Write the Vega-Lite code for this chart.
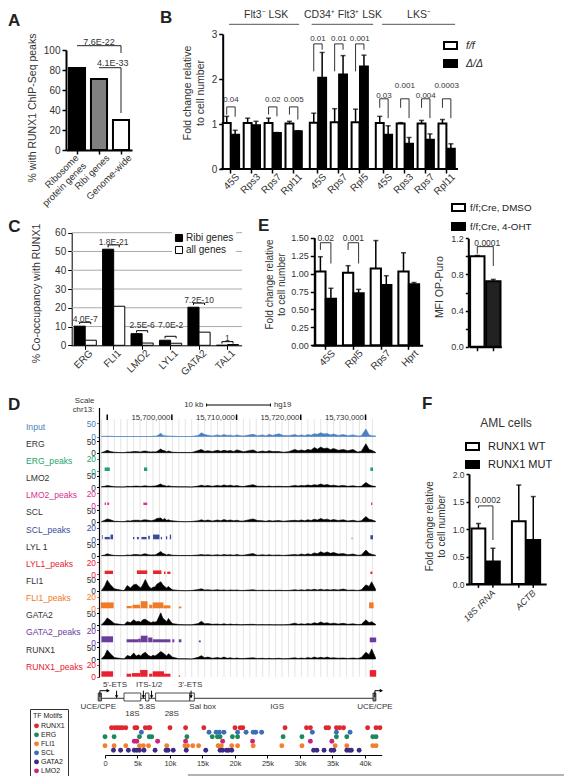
{
"$schema":"https://vega.github.io/schema/vega-lite/v6.json",
"width":564,"height":776,"padding":0,"autosize":{"type":"none"},"background":"white",
"config":{"font":"Liberation Sans","view":{"stroke":null},"axis":{"grid":false,"labelFont":"Liberation Sans","titleFont":"Liberation Sans","labelColor":"#333","titleColor":"#333","titleFontWeight":"normal","domainColor":"#000","tickColor":"#000","labelOverlap":false,"labelBound":false,"labelFlush":false},"legend":{"labelFont":"Liberation Sans","titleFont":"Liberation Sans","labelColor":"#222","titleColor":"#222","titleFontWeight":"normal"},"text":{"color":"#333"}},
"resolve":{"scale":{"x":"independent","y":"independent","xOffset":"independent","fill":"independent"}},
"datasets":{
"A":[{"k":"Ribosome protein genes","v":82},{"k":"Ribi genes","v":71},{"k":"Genome-wide","v":30}],
"Ab":[{"b":1,"k":"Ribosome protein genes","y":104.3,"o":0},{"b":1,"k":"Genome-wide","y":104.3,"o":1},{"b":1,"k":"Genome-wide","y":97,"o":2},{"b":2,"k":"Ribi genes","y":82.3,"o":0},{"b":2,"k":"Genome-wide","y":82.3,"o":1},{"b":2,"k":"Genome-wide","y":37,"o":2}],
"B":[
{"g":1,"k":"45S","s":"f/f","v":1.02,"e":1.17},{"g":1,"k":"45S","s":"Δ/Δ","v":0.76,"e":0.86},
{"g":1,"k":"Rps3","s":"f/f","v":1.02,"e":1.13},{"g":1,"k":"Rps3","s":"Δ/Δ","v":0.97,"e":1.06},
{"g":1,"k":"Rps7","s":"f/f","v":1.02,"e":1.13},{"g":1,"k":"Rps7","s":"Δ/Δ","v":0.8,"e":0.81},
{"g":1,"k":"Rpl11","s":"f/f","v":1.01,"e":1.06},{"g":1,"k":"Rpl11","s":"Δ/Δ","v":0.84,"e":0.85},
{"g":2,"k":"45S","s":"f/f","v":1.03,"e":1.24},{"g":2,"k":"45S","s":"Δ/Δ","v":2.03,"e":2.59},
{"g":2,"k":"Rps7","s":"f/f","v":1.04,"e":1.34},{"g":2,"k":"Rps7","s":"Δ/Δ","v":2.1,"e":2.52},
{"g":2,"k":"Rpl5","s":"f/f","v":1.04,"e":1.33},{"g":2,"k":"Rpl5","s":"Δ/Δ","v":2.28,"e":2.53},
{"g":3,"k":"45S","s":"f/f","v":1.02,"e":1.17},{"g":3,"k":"45S","s":"Δ/Δ","v":0.76,"e":0.96},
{"g":3,"k":"Rps3","s":"f/f","v":1.01,"e":1.03},{"g":3,"k":"Rps3","s":"Δ/Δ","v":0.56,"e":0.7},
{"g":3,"k":"Rps7","s":"f/f","v":1.01,"e":1.08},{"g":3,"k":"Rps7","s":"Δ/Δ","v":0.65,"e":0.78},
{"g":3,"k":"Rpl11","s":"f/f","v":1.01,"e":1.1},{"g":3,"k":"Rpl11","s":"Δ/Δ","v":0.45,"e":0.56}],
"Bb":[
{"g":1,"k":"45S","s":"f/f","y":1.21,"o":0},{"g":1,"k":"45S","s":"f/f","y":1.38,"o":1},{"g":1,"k":"45S","s":"Δ/Δ","y":1.38,"o":2},{"g":1,"k":"45S","s":"Δ/Δ","y":1.16,"o":3},
{"g":1,"k":"Rps7","s":"f/f","y":1.21,"o":0},{"g":1,"k":"Rps7","s":"f/f","y":1.38,"o":1},{"g":1,"k":"Rps7","s":"Δ/Δ","y":1.38,"o":2},{"g":1,"k":"Rps7","s":"Δ/Δ","y":1.17,"o":3},
{"g":1,"k":"Rpl11","s":"f/f","y":1.21,"o":0},{"g":1,"k":"Rpl11","s":"f/f","y":1.38,"o":1},{"g":1,"k":"Rpl11","s":"Δ/Δ","y":1.38,"o":2},{"g":1,"k":"Rpl11","s":"Δ/Δ","y":1.1,"o":3},
{"g":2,"k":"45S","s":"f/f","y":2.17,"o":0},{"g":2,"k":"45S","s":"f/f","y":2.78,"o":1},{"g":2,"k":"45S","s":"Δ/Δ","y":2.78,"o":2},{"g":2,"k":"45S","s":"Δ/Δ","y":2.65,"o":3},
{"g":2,"k":"Rps7","s":"f/f","y":2.17,"o":0},{"g":2,"k":"Rps7","s":"f/f","y":2.78,"o":1},{"g":2,"k":"Rps7","s":"Δ/Δ","y":2.78,"o":2},{"g":2,"k":"Rps7","s":"Δ/Δ","y":2.65,"o":3},
{"g":2,"k":"Rpl5","s":"f/f","y":2.17,"o":0},{"g":2,"k":"Rpl5","s":"f/f","y":2.78,"o":1},{"g":2,"k":"Rpl5","s":"Δ/Δ","y":2.78,"o":2},{"g":2,"k":"Rpl5","s":"Δ/Δ","y":2.65,"o":3},
{"g":3,"k":"45S","s":"f/f","y":1.36,"o":0},{"g":3,"k":"45S","s":"f/f","y":1.56,"o":1},{"g":3,"k":"45S","s":"Δ/Δ","y":1.56,"o":2},{"g":3,"k":"45S","s":"Δ/Δ","y":1.13,"o":3},
{"g":3,"k":"Rps3","s":"f/f","y":1.36,"o":0},{"g":3,"k":"Rps3","s":"f/f","y":1.56,"o":1},{"g":3,"k":"Rps3","s":"Δ/Δ","y":1.56,"o":2},{"g":3,"k":"Rps3","s":"Δ/Δ","y":1.13,"o":3},
{"g":3,"k":"Rps7","s":"f/f","y":1.36,"o":0},{"g":3,"k":"Rps7","s":"f/f","y":1.56,"o":1},{"g":3,"k":"Rps7","s":"Δ/Δ","y":1.56,"o":2},{"g":3,"k":"Rps7","s":"Δ/Δ","y":1.13,"o":3},
{"g":3,"k":"Rpl11","s":"f/f","y":1.36,"o":0},{"g":3,"k":"Rpl11","s":"f/f","y":1.56,"o":1},{"g":3,"k":"Rpl11","s":"Δ/Δ","y":1.56,"o":2},{"g":3,"k":"Rpl11","s":"Δ/Δ","y":1.13,"o":3}],
"Bt":[{"g":1,"k":"45S","t":"0.04","y":1.53},{"g":1,"k":"Rps7","t":"0.02","y":1.53},{"g":1,"k":"Rpl11","t":"0.005","y":1.53},{"g":2,"k":"45S","t":"0.01","y":2.89},{"g":2,"k":"Rps7","t":"0.01","y":2.89},{"g":2,"k":"Rpl5","t":"0.001","y":2.89},{"g":3,"k":"45S","t":"0.03","y":1.63},{"g":3,"k":"Rps3","t":"0.001","y":1.84},{"g":3,"k":"Rps7","t":"0.004","y":1.63},{"g":3,"k":"Rpl11","t":"0.0003","y":1.84}],
"Bo":[{"a":0.41,"b":3.76},{"a":4.36,"b":7.3},{"a":7.73,"b":11.22}],
"C":[{"k":"ERG","s":"Ribi genes","v":10.2},{"k":"ERG","s":"all genes","v":2.7},{"k":"FLI1","s":"Ribi genes","v":51.2},{"k":"FLI1","s":"all genes","v":20.8},{"k":"LMO2","s":"Ribi genes","v":6.2},{"k":"LMO2","s":"all genes","v":1.2},{"k":"LYL1","s":"Ribi genes","v":2.7},{"k":"LYL1","s":"all genes","v":1.1},{"k":"GATA2","s":"Ribi genes","v":20.3},{"k":"GATA2","s":"all genes","v":7},{"k":"TAL1","s":"Ribi genes","v":0},{"k":"TAL1","s":"all genes","v":0.4}],
"Cb":[
{"k":"ERG","s":"Ribi genes","y":11.3,"o":0},{"k":"ERG","s":"Ribi genes","y":12.25,"o":1},{"k":"ERG","s":"all genes","y":12.25,"o":2},{"k":"ERG","s":"all genes","y":11.3,"o":3},
{"k":"FLI1","s":"Ribi genes","y":52.2,"o":0},{"k":"FLI1","s":"Ribi genes","y":53.5,"o":1},{"k":"FLI1","s":"all genes","y":53.5,"o":2},{"k":"FLI1","s":"all genes","y":52.2,"o":3},
{"k":"LMO2","s":"Ribi genes","y":6.75,"o":0},{"k":"LMO2","s":"Ribi genes","y":7.8,"o":1},{"k":"LMO2","s":"all genes","y":7.8,"o":2},{"k":"LMO2","s":"all genes","y":6.75,"o":3},
{"k":"LYL1","s":"Ribi genes","y":3.7,"o":0},{"k":"LYL1","s":"Ribi genes","y":4.8,"o":1},{"k":"LYL1","s":"all genes","y":4.8,"o":2},{"k":"LYL1","s":"all genes","y":3.7,"o":3},
{"k":"GATA2","s":"Ribi genes","y":21.5,"o":0},{"k":"GATA2","s":"Ribi genes","y":22.5,"o":1},{"k":"GATA2","s":"all genes","y":22.5,"o":2},{"k":"GATA2","s":"all genes","y":21.5,"o":3},
{"k":"TAL1","s":"Ribi genes","y":0.9,"o":0},{"k":"TAL1","s":"Ribi genes","y":1.95,"o":1},{"k":"TAL1","s":"all genes","y":1.95,"o":2},{"k":"TAL1","s":"all genes","y":0.9,"o":3}],
"Ct":[{"k":"ERG","t":"4.0E-7","y":13.85},{"k":"FLI1","t":"1.8E-21","y":55.2},{"k":"LMO2","t":"2.5E-6","y":10.8},{"k":"LYL1","t":"7.0E-2","y":10.8},{"k":"GATA2","t":"7.2E-10","y":24.2},{"k":"TAL1","t":"1","y":3.7}],
"Cg":[{"y":10},{"y":20},{"y":30},{"y":40},{"y":50},{"y":60}],
"E":[{"k":"45S","s":"DMSO","v":1.03,"e":1.235},{"k":"45S","s":"4-OHT","v":0.65,"e":0.795},{"k":"Rpl5","s":"DMSO","v":1.01,"e":1.11},{"k":"Rpl5","s":"4-OHT","v":0.725,"e":0.78},{"k":"Rps7","s":"DMSO","v":1.07,"e":1.46},{"k":"Rps7","s":"4-OHT","v":0.84,"e":0.97},{"k":"Hprt","s":"DMSO","v":1.03,"e":1.29},{"k":"Hprt","s":"4-OHT","v":0.85,"e":0.875}],
"Eb":[{"k":"45S","s":"DMSO","y":1.33,"o":0},{"k":"45S","s":"DMSO","y":1.43,"o":1},{"k":"45S","s":"4-OHT","y":1.43,"o":2},{"k":"45S","s":"4-OHT","y":1.14,"o":3},{"k":"Rpl5","s":"DMSO","y":1.33,"o":0},{"k":"Rpl5","s":"DMSO","y":1.43,"o":1},{"k":"Rpl5","s":"4-OHT","y":1.43,"o":2},{"k":"Rpl5","s":"4-OHT","y":1.14,"o":3}],
"Et":[{"k":"45S","t":"0.02","y":1.49},{"k":"Rpl5","t":"0.001","y":1.49}],
"E2":[{"k":"DMSO","v":1.0,"e":1.01},{"k":"4-OHT","v":0.725,"e":0.745}],
"E2b":[{"k":"DMSO","y":1.03,"o":0},{"k":"DMSO","y":1.108,"o":1},{"k":"4-OHT","y":1.108,"o":2},{"k":"4-OHT","y":0.894,"o":3}],
"F":[{"k":"18S rRNA","s":"WT","v":1.01,"e":1.1},{"k":"18S rRNA","s":"MUT","v":0.41,"e":0.65},{"k":"ACTB","s":"WT","v":1.14,"e":1.8},{"k":"ACTB","s":"MUT","v":0.8,"e":1.59}],
"Fb":[{"k":"18S rRNA","s":"WT","y":1.38,"o":0},{"k":"18S rRNA","s":"WT","y":1.42,"o":1},{"k":"18S rRNA","s":"MUT","y":1.42,"o":2},{"k":"18S rRNA","s":"MUT","y":0.8,"o":3}],
"Ft":[{"k":"18S rRNA","s":"WT","y":0,"y2":-0.07},{"k":"18S rRNA","s":"MUT","y":0,"y2":-0.07},{"k":"ACTB","s":"WT","y":0,"y2":-0.07},{"k":"ACTB","s":"MUT","y":0,"y2":-0.07}],
"sig":[
{"p":-11,"Input":0,"ERG":0,"LMO2":1,"SCL":0,"LYL1":0,"FLI1":0,"GATA2":0,"RUNX1":0},
{"p":-10.5,"Input":1,"ERG":5,"LMO2":3,"SCL":6,"LYL1":3,"FLI1":20,"GATA2":15,"RUNX1":15},
{"p":-10.1,"Input":1,"ERG":10,"LMO2":6,"SCL":12,"LYL1":8,"FLI1":45,"GATA2":30,"RUNX1":38},
{"p":-9.6,"Input":1,"ERG":5,"LMO2":4,"SCL":8,"LYL1":4,"FLI1":25,"GATA2":20,"RUNX1":22},
{"p":-9,"Input":0,"ERG":2,"LMO2":1,"SCL":2,"LYL1":1,"FLI1":8,"GATA2":6,"RUNX1":6},
{"p":-7.5,"Input":0,"ERG":0,"LMO2":0,"SCL":0,"LYL1":0,"FLI1":0,"GATA2":1,"RUNX1":0},
{"p":-7,"Input":0,"ERG":3,"LMO2":3,"SCL":4,"LYL1":3,"FLI1":22,"GATA2":14,"RUNX1":15},
{"p":-6.5,"Input":0,"ERG":3,"LMO2":2,"SCL":3,"LYL1":2,"FLI1":12,"GATA2":10,"RUNX1":10},
{"p":-6,"Input":0,"ERG":5,"LMO2":3,"SCL":6,"LYL1":5,"FLI1":25,"GATA2":22,"RUNX1":25},
{"p":-5.6,"Input":0,"ERG":5,"LMO2":4,"SCL":6,"LYL1":5,"FLI1":28,"GATA2":14,"RUNX1":12},
{"p":-5.2,"Input":0,"ERG":4,"LMO2":3,"SCL":6,"LYL1":4,"FLI1":18,"GATA2":16,"RUNX1":18},
{"p":-4.9,"Input":0,"ERG":3,"LMO2":2,"SCL":4,"LYL1":3,"FLI1":12,"GATA2":12,"RUNX1":12},
{"p":-4.6,"Input":0,"ERG":6,"LMO2":4,"SCL":7,"LYL1":6,"FLI1":25,"GATA2":22,"RUNX1":22},
{"p":-4.2,"Input":0,"ERG":7,"LMO2":5,"SCL":8,"LYL1":8,"FLI1":48,"GATA2":25,"RUNX1":28},
{"p":-3.7,"Input":0,"ERG":4,"LMO2":3,"SCL":6,"LYL1":4,"FLI1":20,"GATA2":15,"RUNX1":15},
{"p":-3.3,"Input":0,"ERG":3,"LMO2":3,"SCL":4,"LYL1":3,"FLI1":9,"GATA2":10,"RUNX1":10},
{"p":-3,"Input":1,"ERG":4,"LMO2":4,"SCL":6,"LYL1":4,"FLI1":15,"GATA2":14,"RUNX1":16},
{"p":-2.7,"Input":1,"ERG":3,"LMO2":4,"SCL":8,"LYL1":3,"FLI1":16,"GATA2":12,"RUNX1":12},
{"p":-2.4,"Input":2,"ERG":5,"LMO2":6,"SCL":14,"LYL1":7,"FLI1":28,"GATA2":16,"RUNX1":18},
{"p":-1.8,"Input":12,"ERG":16,"LMO2":13,"SCL":16,"LYL1":18,"FLI1":38,"GATA2":52,"RUNX1":31},
{"p":-1.5,"Input":5,"ERG":10,"LMO2":8,"SCL":8,"LYL1":10,"FLI1":26,"GATA2":30,"RUNX1":26},
{"p":-1.2,"Input":3,"ERG":8,"LMO2":6,"SCL":14,"LYL1":7,"FLI1":18,"GATA2":22,"RUNX1":20},
{"p":-0.9,"Input":2,"ERG":4,"LMO2":3,"SCL":6,"LYL1":3,"FLI1":12,"GATA2":14,"RUNX1":12},
{"p":-0.6,"Input":2,"ERG":7,"LMO2":5,"SCL":8,"LYL1":6,"FLI1":18,"GATA2":28,"RUNX1":22},
{"p":-0.3,"Input":1,"ERG":5,"LMO2":3,"SCL":5,"LYL1":4,"FLI1":10,"GATA2":16,"RUNX1":16},
{"p":0,"Input":1,"ERG":2,"LMO2":2,"SCL":4,"LYL1":2,"FLI1":4,"GATA2":6,"RUNX1":8},
{"p":1,"Input":0,"ERG":1,"LMO2":1,"SCL":1,"LYL1":1,"FLI1":1,"GATA2":2,"RUNX1":1},
{"p":2,"Input":0,"ERG":1,"LMO2":1,"SCL":0,"LYL1":1,"FLI1":0,"GATA2":1,"RUNX1":1},
{"p":3,"Input":0,"ERG":1,"LMO2":0,"SCL":1,"LYL1":1,"FLI1":1,"GATA2":1,"RUNX1":0},
{"p":4,"Input":4,"ERG":9,"LMO2":4,"SCL":4,"LYL1":3,"FLI1":5,"GATA2":6,"RUNX1":7},
{"p":4.5,"Input":14,"ERG":14,"LMO2":8,"SCL":8,"LYL1":5,"FLI1":8,"GATA2":16,"RUNX1":14},
{"p":5,"Input":7,"ERG":6,"LMO2":4,"SCL":4,"LYL1":3,"FLI1":3,"GATA2":5,"RUNX1":5},
{"p":5.5,"Input":5,"ERG":8,"LMO2":6,"SCL":7,"LYL1":4,"FLI1":4,"GATA2":6,"RUNX1":8},
{"p":6.2,"Input":2,"ERG":5,"LMO2":3,"SCL":3,"LYL1":2,"FLI1":2,"GATA2":3,"RUNX1":3},
{"p":7,"Input":6,"ERG":10,"LMO2":7,"SCL":7,"LYL1":4,"FLI1":4,"GATA2":4,"RUNX1":6},
{"p":7.5,"Input":3,"ERG":6,"LMO2":4,"SCL":4,"LYL1":2,"FLI1":2,"GATA2":2,"RUNX1":3},
{"p":8,"Input":7,"ERG":10,"LMO2":9,"SCL":9,"LYL1":5,"FLI1":3,"GATA2":5,"RUNX1":8},
{"p":8.5,"Input":4,"ERG":7,"LMO2":5,"SCL":5,"LYL1":3,"FLI1":1,"GATA2":2,"RUNX1":3},
{"p":9,"Input":5,"ERG":9,"LMO2":8,"SCL":7,"LYL1":4,"FLI1":3,"GATA2":4,"RUNX1":5},
{"p":9.5,"Input":2,"ERG":5,"LMO2":4,"SCL":4,"LYL1":2,"FLI1":2,"GATA2":2,"RUNX1":2},
{"p":10,"Input":6,"ERG":12,"LMO2":6,"SCL":6,"LYL1":5,"FLI1":3,"GATA2":3,"RUNX1":4},
{"p":10.5,"Input":3,"ERG":8,"LMO2":3,"SCL":3,"LYL1":2,"FLI1":1,"GATA2":1,"RUNX1":2},
{"p":11,"Input":2,"ERG":4,"LMO2":2,"SCL":3,"LYL1":2,"FLI1":1,"GATA2":2,"RUNX1":2},
{"p":12.5,"Input":8,"ERG":12,"LMO2":10,"SCL":12,"LYL1":9,"FLI1":4,"GATA2":3,"RUNX1":5},
{"p":13.2,"Input":3,"ERG":3,"LMO2":3,"SCL":5,"LYL1":2,"FLI1":1,"GATA2":1,"RUNX1":2},
{"p":14,"Input":6,"ERG":7,"LMO2":3,"SCL":4,"LYL1":4,"FLI1":2,"GATA2":2,"RUNX1":3},
{"p":14.5,"Input":2,"ERG":4,"LMO2":2,"SCL":2,"LYL1":2,"FLI1":1,"GATA2":1,"RUNX1":1},
{"p":15,"Input":8,"ERG":8,"LMO2":4,"SCL":5,"LYL1":4,"FLI1":2,"GATA2":2,"RUNX1":3},
{"p":15.5,"Input":4,"ERG":5,"LMO2":2,"SCL":3,"LYL1":2,"FLI1":1,"GATA2":1,"RUNX1":1},
{"p":16.5,"Input":10,"ERG":5,"LMO2":3,"SCL":5,"LYL1":3,"FLI1":2,"GATA2":1,"RUNX1":3},
{"p":17.2,"Input":4,"ERG":2,"LMO2":2,"SCL":2,"LYL1":1,"FLI1":1,"GATA2":1,"RUNX1":1},
{"p":18,"Input":3,"ERG":4,"LMO2":2,"SCL":4,"LYL1":3,"FLI1":1,"GATA2":2,"RUNX1":2},
{"p":19,"Input":7,"ERG":14,"LMO2":7,"SCL":6,"LYL1":5,"FLI1":4,"GATA2":8,"RUNX1":5},
{"p":19.5,"Input":3,"ERG":8,"LMO2":4,"SCL":4,"LYL1":3,"FLI1":2,"GATA2":3,"RUNX1":2},
{"p":20,"Input":6,"ERG":12,"LMO2":7,"SCL":7,"LYL1":7,"FLI1":4,"GATA2":5,"RUNX1":4},
{"p":20.5,"Input":3,"ERG":8,"LMO2":5,"SCL":4,"LYL1":4,"FLI1":2,"GATA2":3,"RUNX1":2},
{"p":21,"Input":7,"ERG":14,"LMO2":9,"SCL":8,"LYL1":8,"FLI1":5,"GATA2":6,"RUNX1":6},
{"p":21.5,"Input":5,"ERG":11,"LMO2":6,"SCL":5,"LYL1":5,"FLI1":3,"GATA2":4,"RUNX1":3},
{"p":22,"Input":10,"ERG":22,"LMO2":10,"SCL":10,"LYL1":12,"FLI1":6,"GATA2":10,"RUNX1":8},
{"p":22.5,"Input":8,"ERG":15,"LMO2":8,"SCL":7,"LYL1":8,"FLI1":3,"GATA2":6,"RUNX1":4},
{"p":23,"Input":14,"ERG":24,"LMO2":13,"SCL":14,"LYL1":17,"FLI1":6,"GATA2":13,"RUNX1":7},
{"p":23.5,"Input":9,"ERG":17,"LMO2":8,"SCL":8,"LYL1":11,"FLI1":3,"GATA2":7,"RUNX1":4},
{"p":24,"Input":11,"ERG":20,"LMO2":11,"SCL":11,"LYL1":16,"FLI1":5,"GATA2":10,"RUNX1":8},
{"p":24.5,"Input":6,"ERG":13,"LMO2":6,"SCL":6,"LYL1":10,"FLI1":3,"GATA2":5,"RUNX1":4},
{"p":25,"Input":9,"ERG":18,"LMO2":8,"SCL":9,"LYL1":14,"FLI1":5,"GATA2":8,"RUNX1":5},
{"p":25.7,"Input":4,"ERG":10,"LMO2":4,"SCL":5,"LYL1":7,"FLI1":3,"GATA2":4,"RUNX1":3},
{"p":26.5,"Input":7,"ERG":14,"LMO2":7,"SCL":8,"LYL1":9,"FLI1":7,"GATA2":7,"RUNX1":4},
{"p":27.2,"Input":3,"ERG":8,"LMO2":3,"SCL":3,"LYL1":4,"FLI1":2,"GATA2":3,"RUNX1":2},
{"p":28,"Input":6,"ERG":14,"LMO2":5,"SCL":6,"LYL1":7,"FLI1":3,"GATA2":5,"RUNX1":4},
{"p":28.7,"Input":2,"ERG":3,"LMO2":2,"SCL":2,"LYL1":2,"FLI1":1,"GATA2":2,"RUNX1":2},
{"p":29.3,"Input":3,"ERG":6,"LMO2":3,"SCL":4,"LYL1":3,"FLI1":4,"GATA2":3,"RUNX1":6},
{"p":30,"Input":28,"ERG":38,"LMO2":20,"SCL":22,"LYL1":24,"FLI1":25,"GATA2":22,"RUNX1":28},
{"p":30.5,"Input":6,"ERG":14,"LMO2":10,"SCL":10,"LYL1":10,"FLI1":18,"GATA2":10,"RUNX1":18},
{"p":30.9,"Input":3,"ERG":10,"LMO2":5,"SCL":8,"LYL1":6,"FLI1":38,"GATA2":14,"RUNX1":42},
{"p":31.5,"Input":2,"ERG":2,"LMO2":2,"SCL":2,"LYL1":2,"FLI1":6,"GATA2":3,"RUNX1":5}],
"peaks":[
{"t":"ERG","s":-10.5,"e":-9.7,"h":5.7},{"t":"ERG","s":-4.4,"e":-3.9,"h":5.7},{"t":"ERG","s":30.7,"e":31.1,"h":5.7},
{"t":"LMO2","s":-10.5,"e":-10.3,"h":4},{"t":"LMO2","s":-10.1,"e":-9.8,"h":4},{"t":"LMO2","s":-4.5,"e":-3.9,"h":4},{"t":"LMO2","s":30.8,"e":31,"h":4},
{"t":"SCL","s":-10.9,"e":-10.8,"h":7.5},{"t":"SCL","s":-10.5,"e":-9.7,"h":4},{"t":"SCL","s":-9.6,"e":-9.2,"h":8},{"t":"SCL","s":-6.1,"e":-5.9,"h":4},{"t":"SCL","s":-5.5,"e":-5.2,"h":4},{"t":"SCL","s":-4.8,"e":-4,"h":4},{"t":"SCL","s":-3.75,"e":-3.5,"h":6},{"t":"SCL","s":-3,"e":-2.7,"h":8},{"t":"SCL","s":-2.7,"e":-2,"h":8},{"t":"SCL","s":-1.8,"e":-1.6,"h":4},{"t":"SCL","s":-1,"e":-0.8,"h":5},{"t":"SCL","s":-0.4,"e":-0.2,"h":8},{"t":"SCL","s":27.8,"e":27.9,"h":3},{"t":"SCL","s":30.7,"e":31.1,"h":7},
{"t":"LYL1","s":-10.5,"e":-9.2,"h":5.5},{"t":"LYL1","s":-5.5,"e":-3.9,"h":6},{"t":"LYL1","s":-3,"e":-1.7,"h":6},{"t":"LYL1","s":-1.3,"e":-1.06,"h":4},{"t":"LYL1","s":-0.8,"e":-0.3,"h":4},{"t":"LYL1","s":30.7,"e":31,"h":4},
{"t":"FLI1","s":-11.1,"e":-9.1,"h":10},{"t":"FLI1","s":-7.1,"e":-6.3,"h":4},{"t":"FLI1","s":-6.2,"e":-5,"h":6},{"t":"FLI1","s":-4.9,"e":-3.85,"h":12},{"t":"FLI1","s":-3.6,"e":-3.1,"h":6},{"t":"FLI1","s":-3.05,"e":-1.4,"h":10},{"t":"FLI1","s":-1.4,"e":-0.3,"h":5},{"t":"FLI1","s":1,"e":1.4,"h":3},{"t":"FLI1","s":30.5,"e":31.2,"h":10},
{"t":"GATA2","s":-11,"e":-9.2,"h":10},{"t":"GATA2","s":-7.1,"e":-5.3,"h":5},{"t":"GATA2","s":-5.3,"e":-4.9,"h":6},{"t":"GATA2","s":-4.9,"e":-3.85,"h":11},{"t":"GATA2","s":-3.75,"e":-3.1,"h":8},{"t":"GATA2","s":-3.05,"e":-0.3,"h":5},{"t":"GATA2","s":0,"e":0.3,"h":5},{"t":"GATA2","s":1,"e":1.4,"h":5},{"t":"GATA2","s":4.1,"e":4.4,"h":3},{"t":"GATA2","s":30.6,"e":31.6,"h":8},
{"t":"RUNX1","s":-11,"e":-9.2,"h":9},{"t":"RUNX1","s":-7.1,"e":-6.4,"h":5},{"t":"RUNX1","s":-6.3,"e":-5,"h":6},{"t":"RUNX1","s":-5,"e":-3.85,"h":11},{"t":"RUNX1","s":-3.6,"e":-3.1,"h":5},{"t":"RUNX1","s":-3.05,"e":-1.3,"h":9},{"t":"RUNX1","s":-1.3,"e":-0.3,"h":5},{"t":"RUNX1","s":1,"e":1.2,"h":2},{"t":"RUNX1","s":30.6,"e":31.6,"h":11}],
"tracks":[{"n":"Input"},{"n":"ERG"},{"n":"ERG_peaks"},{"n":"LMO2"},{"n":"LMO2_peaks"},{"n":"SCL"},{"n":"SCL_peaks"},{"n":"LYL 1"},{"n":"LYL1_peaks"},{"n":"FLI1"},{"n":"FLI1_peaks"},{"n":"GATA2"},{"n":"GATA2_peaks"},{"n":"RUNX1"},{"n":"RUNX1_peaks"}],
"grid":[{"p":-11},{"p":-10},{"p":-9},{"p":-8},{"p":-7},{"p":-6},{"p":-5},{"p":-4},{"p":-3},{"p":-2},{"p":-1},{"p":0},{"p":1},{"p":2},{"p":3},{"p":4},{"p":5},{"p":6},{"p":7},{"p":8},{"p":9},{"p":10},{"p":11},{"p":12},{"p":13},{"p":14},{"p":15},{"p":16},{"p":17},{"p":18},{"p":19},{"p":20},{"p":21},{"p":22},{"p":23},{"p":24},{"p":25},{"p":26},{"p":27},{"p":28},{"p":29},{"p":30},{"p":31}],
"toptext":[{"t":"Scale","p":-12.1,"l":19.3},{"t":"chr13:","p":-12.1,"l":10},{"t":"10 kb","p":4.8,"l":15},{"t":"15,700,000","p":-0.3,"l":2.3},{"t":"15,710,000","p":9.7,"l":2.3},{"t":"15,720,000","p":19.7,"l":2.3},{"t":"15,730,000","p":29.7,"l":2.3}],
"topticks":[{"p":-10.1,"l":0,"l2":5.5},{"p":-0.08,"l":0,"l2":5.5},{"p":9.95,"l":0,"l2":5.5},{"p":19.9,"l":0,"l2":5.5},{"p":29.95,"l":0,"l2":5.5}],
"genebox":[{"s":-7.5,"e":-4.9,"h":0.5,"h2":4.5},{"s":-4.16,"e":-3.64,"h":0.5,"h2":4.5},{"s":-2.6,"e":2.7,"h":0.5,"h2":4.5},{"s":2.7,"e":3.4,"h":0.5,"h2":4.5}],
"genepro":[{"s":-11.5,"e":-11,"h":0.5,"h2":4.5},{"s":31.1,"e":31.55,"h":0.5,"h2":4.5}],
"genearrow":[{"b":"L","p":-11.24,"h":2.5,"o":0},{"b":"L","p":-11.24,"h":5.65,"o":1},{"b":"L","p":-9.95,"h":5.65,"o":2},{"b":"R","p":31.4,"h":2.5,"o":0},{"b":"R","p":31.4,"h":5.65,"o":1},{"b":"R","p":32.4,"h":5.65,"o":2}],
"genetip":[{"p":-9.95,"h":5.65},{"p":32.4,"h":5.65}],
"genedown":[{"p":-8.65,"h":5.65,"h2":2.2,"h3":2.6},{"p":-4.5,"h":5.65,"h2":2.2,"h3":2.6},{"p":-3.23,"h":5.65,"h2":2.2,"h3":2.6},{"p":2.9,"h":5.65,"h2":2.2,"h3":2.6}],
"genetext":[{"t":"5'-ETS","p":-8.9,"h":8.35},{"t":"ITS-1/2","p":-3.6,"h":8.35},{"t":"3'-ETS","p":2.76,"h":8.35},{"t":"UCE/CPE","p":-11.5,"h":-2.5},{"t":"5.8S","p":-3.9,"h":-2.5},{"t":"Sal box","p":4.7,"h":-2.5},{"t":"IGS","p":16.25,"h":-2.5},{"t":"UCE/CPE","p":31.4,"h":-2.5},{"t":"18S","p":-6.2,"h":-6},{"t":"28S","p":-0.1,"h":-6}],
"motifs":[
{"f":"RUNX1","kb":1},{"f":"RUNX1","kb":1.5},{"f":"RUNX1","kb":1.9},{"f":"RUNX1","kb":2.3},{"f":"RUNX1","kb":2.7},{"f":"RUNX1","kb":3.2},{"f":"RUNX1","kb":4.6},{"f":"RUNX1","kb":4.9},{"f":"RUNX1","kb":6.2},{"f":"RUNX1","kb":6.7},{"f":"RUNX1","kb":6.9},{"f":"RUNX1","kb":10},{"f":"RUNX1","kb":12.4},{"f":"RUNX1","kb":15.2},{"f":"RUNX1","kb":20},{"f":"RUNX1","kb":20.8},{"f":"RUNX1","kb":21.2},{"f":"RUNX1","kb":27.7},{"f":"RUNX1","kb":31},{"f":"RUNX1","kb":31.6},{"f":"RUNX1","kb":34},{"f":"RUNX1","kb":34.4},{"f":"RUNX1","kb":35.6},{"f":"RUNX1","kb":36.1},{"f":"RUNX1","kb":36.7},{"f":"RUNX1","kb":40.4},{"f":"RUNX1","kb":41.7},{"f":"RUNX1","kb":42.3},
{"f":"SCL","kb":5.6},{"f":"SCL","kb":16},{"f":"SCL","kb":17.1},{"f":"SCL","kb":17.6},{"f":"SCL","kb":18.3},{"f":"SCL","kb":20.4},{"f":"SCL","kb":21.7},{"f":"SCL","kb":22.8},{"f":"SCL","kb":23.2},{"f":"SCL","kb":24.1},{"f":"SCL","kb":31.9},{"f":"SCL","kb":35.6},{"f":"SCL","kb":37.7},
{"f":"ERG","kb":0},{"f":"ERG","kb":1.4},{"f":"ERG","kb":5.3},{"f":"ERG","kb":6.8},{"f":"ERG","kb":7.2},{"f":"ERG","kb":12.6},{"f":"ERG","kb":16.5},{"f":"ERG","kb":17.3},{"f":"ERG","kb":17.7},{"f":"ERG","kb":19.6},{"f":"ERG","kb":20.4},{"f":"ERG","kb":27.4},{"f":"ERG","kb":30.3},{"f":"ERG","kb":35.6},{"f":"ERG","kb":37.2},{"f":"ERG","kb":41.2},{"f":"ERG","kb":41.7},
{"f":"LMO2","kb":4.5},{"f":"LMO2","kb":4.9},{"f":"LMO2","kb":8.1},{"f":"LMO2","kb":12.4},{"f":"LMO2","kb":18.1},{"f":"LMO2","kb":22.7},{"f":"LMO2","kb":31.6},{"f":"LMO2","kb":34.9},
{"f":"FLI1","kb":0},{"f":"FLI1","kb":1.4},{"f":"FLI1","kb":3.2},{"f":"FLI1","kb":5.3},{"f":"FLI1","kb":5.9},{"f":"FLI1","kb":6.7},{"f":"FLI1","kb":9.5},{"f":"FLI1","kb":12.3},{"f":"FLI1","kb":12.7},{"f":"FLI1","kb":13.5},{"f":"FLI1","kb":14.4},{"f":"FLI1","kb":17.4},{"f":"FLI1","kb":17.9},{"f":"FLI1","kb":19.5},{"f":"FLI1","kb":20.4},{"f":"FLI1","kb":22.8},{"f":"FLI1","kb":27.2},{"f":"FLI1","kb":30.3},{"f":"FLI1","kb":35.4},{"f":"FLI1","kb":37.2},{"f":"FLI1","kb":41.2},{"f":"FLI1","kb":41.7},
{"f":"GATA2","kb":1.3},{"f":"GATA2","kb":2.4},{"f":"GATA2","kb":3.6},{"f":"GATA2","kb":4.5},{"f":"GATA2","kb":4.9},{"f":"GATA2","kb":5.3},{"f":"GATA2","kb":6},{"f":"GATA2","kb":7.7},{"f":"GATA2","kb":9.4},{"f":"GATA2","kb":9.7},{"f":"GATA2","kb":10.5},{"f":"GATA2","kb":12.5},{"f":"GATA2","kb":15.5},{"f":"GATA2","kb":17.7},{"f":"GATA2","kb":18.1},{"f":"GATA2","kb":18.7},{"f":"GATA2","kb":19},{"f":"GATA2","kb":19.5},{"f":"GATA2","kb":32.1},{"f":"GATA2","kb":32.6},{"f":"GATA2","kb":33.7},{"f":"GATA2","kb":34.8},{"f":"GATA2","kb":35.2},{"f":"GATA2","kb":37.2},{"f":"GATA2","kb":37.6},{"f":"GATA2","kb":37.9},{"f":"GATA2","kb":39.1}]
},
"layer":[
{"encoding":{
 "x":{"field":"k","type":"nominal","scale":{"domain":["Ribosome protein genes","Ribi genes","Genome-wide"],"range":[66,132],"paddingInner":0.27,"paddingOuter":0.135},"axis":{"orient":"bottom","offset":-626,"title":null,"labelAngle":-45,"labelAlign":"right","labelBaseline":"middle","labelFontSize":9.5,"labelLimit":200,"labelLineHeight":11,"labelOffset":{"expr":"datum.label=='Ribosome protein genes'?0:9"},"tickSize":4,"tickWidth":1.5,"domainWidth":2,"labelExpr":"datum.label=='Ribosome protein genes'?['Ribosome','protein genes']:datum.label"}},
 "y":{"field":"v","type":"quantitative","stack":null,"scale":{"domain":[0,100],"range":[150,50]},"axis":{"orient":"left","offset":-66,"values":[0,20,40,60,80,100],"title":"% with RUNX1 ChIP-Seq peaks","titleFontSize":10.5,"titleX":-29,"titleY":107.5,"labelFontSize":10,"tickSize":4,"tickWidth":1.5,"domainWidth":2}}},
 "layer":[
 {"data":{"name":"A"},"mark":{"type":"bar","stroke":"#000","strokeWidth":2},"encoding":{"fill":{"field":"k","type":"nominal","scale":{"domain":["Ribosome protein genes","Ribi genes","Genome-wide"],"range":["#000","#808080","#fff"]},"legend":null}}},
 {"data":{"name":"Ab"},"mark":{"type":"line","color":"#222","strokeWidth":1},"encoding":{"y":{"field":"y"},"order":{"field":"o"},"detail":{"field":"b"}}},
 {"data":{"values":[{"t":"7.6E-22","k":"Ribi genes","y":108}]},"mark":{"type":"text","fontSize":9},"encoding":{"text":{"field":"t"},"y":{"field":"y"}}},
 {"data":{"values":[{"t":"4.1E-33","k":"Ribi genes","y":87}]},"mark":{"type":"text","fontSize":9,"dx":13.7},"encoding":{"text":{"field":"t"},"y":{"field":"y"}}},
 {"data":{"values":[{"t":"A","k":"Ribosome protein genes","y":129}]},"mark":{"type":"text","fontSize":17,"fontWeight":"bold","align":"left","dx":-69,"color":"#222"},"encoding":{"text":{"field":"t"},"y":{"field":"y"}}}
 ]},

{"data":{"name":"Bo"},"mark":{"type":"rule","color":"#555","strokeWidth":1},"encoding":{"x":{"field":"a","type":"quantitative","scale":{"domain":[0,11.36],"range":[220.5,458]},"axis":null},"x2":{"field":"b"},"y":{"datum":3.215,"scale":{"domain":[0,3],"range":[169,34]},"axis":null}}},
{"data":{"values":[{"a":0,"b":11.36}]},"mark":{"type":"rule","color":"#000","strokeWidth":2},"encoding":{"x":{"field":"a","type":"quantitative","scale":{"domain":[0,11.36],"range":[220.5,458]},"axis":null},"x2":{"field":"b"},"y":{"datum":0,"scale":{"domain":[0,3],"range":[169,34]},"axis":null}}},

{"encoding":{
 "x":{"field":"k","type":"nominal","scale":{"domain":["45S","Rps3","Rps7","Rpl11"],"range":[220.5,304.1],"paddingInner":0.22,"paddingOuter":0.11},"axis":{"orient":"bottom","offset":-607,"title":"Flt3⁻ LSK","titleFontSize":10.5,"titleX":265.7,"titleY":-152,"titleBaseline":"alphabetic","domain":false,"labelAngle":-45,"labelAlign":"right","labelBaseline":"middle","labelFontSize":10,"labelOffset":7,"tickSize":4,"tickWidth":1.5}},
 "y":{"field":"v","type":"quantitative","stack":null,"scale":{"domain":[0,3],"range":[169,34]},"axis":{"orient":"left","offset":-222.7,"values":[0,1,2,3],"title":["Fold change relative","to cell number"],"titleFontSize":10.5,"titleX":-30,"titleY":92.5,"labelFontSize":10,"tickSize":4,"tickWidth":1.5,"domainWidth":2}}},
 "layer":[
 {"data":{"name":"B"},"transform":[{"filter":"datum.g==1"}],"mark":{"type":"rule","color":"#000","strokeWidth":1.5},"encoding":{"xOffset":{"field":"s","type":"nominal","scale":{"domain":["f/f","Δ/Δ"],"paddingInner":0.06}},"y2":{"field":"e"}}},
 {"data":{"name":"B"},"transform":[{"filter":"datum.g==1"}],"mark":{"type":"tick","color":"#000","size":5,"thickness":1.5},"encoding":{"xOffset":{"field":"s","type":"nominal"},"y":{"field":"e"}}},
 {"data":{"name":"B"},"transform":[{"filter":"datum.g==1"}],"mark":{"type":"bar","stroke":"#000","strokeWidth":2},"encoding":{"xOffset":{"field":"s","type":"nominal"},"fill":{"field":"s","type":"nominal","scale":{"domain":["f/f","Δ/Δ"],"range":["#fff","#000"]},"legend":{"orient":"none","legendX":443,"legendY":38,"title":null,"symbolType":"M-1,-0.55H1V0.55H-1Z","symbolSize":169,"symbolStrokeColor":"#000","symbolStrokeWidth":2,"labelFontSize":10.5,"labelFontStyle":"italic","rowPadding":1,"labelOffset":8}}}},
 {"data":{"name":"Bb"},"transform":[{"filter":"datum.g==1"}],"mark":{"type":"line","color":"#333","strokeWidth":1},"encoding":{"xOffset":{"field":"s","type":"nominal"},"y":{"field":"y"},"order":{"field":"o"},"detail":{"field":"k"}}},
 {"data":{"name":"Bt"},"transform":[{"filter":"datum.g==1"}],"mark":{"type":"text","fontSize":8},"encoding":{"text":{"field":"t"},"y":{"field":"y"}}},
 {"data":{"values":[{"t":"B","k":"45S","y":3.35}]},"mark":{"type":"text","fontSize":17,"fontWeight":"bold","align":"left","dx":-71,"color":"#222"},"encoding":{"text":{"field":"t"},"y":{"field":"y"}}}
 ]},
{"encoding":{
 "x":{"field":"k","type":"nominal","scale":{"domain":["45S","Rps7","Rpl5"],"range":[307.5,370.2],"paddingInner":0.22,"paddingOuter":0.11},"axis":{"orient":"bottom","offset":-607,"title":"CD34⁺ Flt3⁺ LSK","titleFontSize":10.5,"titleX":342.5,"titleY":-152,"titleBaseline":"alphabetic","domain":false,"labelAngle":-45,"labelAlign":"right","labelBaseline":"middle","labelFontSize":10,"labelOffset":7,"tickSize":4,"tickWidth":1.5}},
 "y":{"field":"v","type":"quantitative","stack":null,"scale":{"domain":[0,3],"range":[169,34]},"axis":null}},
 "layer":[
 {"data":{"name":"B"},"transform":[{"filter":"datum.g==2"}],"mark":{"type":"rule","color":"#000","strokeWidth":1.5},"encoding":{"xOffset":{"field":"s","type":"nominal","scale":{"domain":["f/f","Δ/Δ"],"paddingInner":0.06}},"y2":{"field":"e"}}},
 {"data":{"name":"B"},"transform":[{"filter":"datum.g==2"}],"mark":{"type":"tick","color":"#000","size":5,"thickness":1.5},"encoding":{"xOffset":{"field":"s","type":"nominal"},"y":{"field":"e"}}},
 {"data":{"name":"B"},"transform":[{"filter":"datum.g==2"}],"mark":{"type":"bar","stroke":"#000","strokeWidth":2},"encoding":{"xOffset":{"field":"s","type":"nominal"},"fill":{"field":"s","type":"nominal","scale":{"domain":["f/f","Δ/Δ"],"range":["#fff","#000"]},"legend":null}}},
 {"data":{"name":"Bb"},"transform":[{"filter":"datum.g==2"}],"mark":{"type":"line","color":"#333","strokeWidth":1},"encoding":{"xOffset":{"field":"s","type":"nominal"},"y":{"field":"y"},"order":{"field":"o"},"detail":{"field":"k"}}},
 {"data":{"name":"Bt"},"transform":[{"filter":"datum.g==2"}],"mark":{"type":"text","fontSize":8},"encoding":{"text":{"field":"t"},"y":{"field":"y"}}}
 ]},
{"encoding":{
 "x":{"field":"k","type":"nominal","scale":{"domain":["45S","Rps3","Rps7","Rpl11"],"range":[373.5,457.1],"paddingInner":0.22,"paddingOuter":0.11},"axis":{"orient":"bottom","offset":-607,"title":"LKS⁻","titleFontSize":10.5,"titleX":418.5,"titleY":-152,"titleBaseline":"alphabetic","domain":false,"labelAngle":-45,"labelAlign":"right","labelBaseline":"middle","labelFontSize":10,"labelOffset":7,"tickSize":4,"tickWidth":1.5}},
 "y":{"field":"v","type":"quantitative","stack":null,"scale":{"domain":[0,3],"range":[169,34]},"axis":null}},
 "layer":[
 {"data":{"name":"B"},"transform":[{"filter":"datum.g==3"}],"mark":{"type":"rule","color":"#000","strokeWidth":1.5},"encoding":{"xOffset":{"field":"s","type":"nominal","scale":{"domain":["f/f","Δ/Δ"],"paddingInner":0.06}},"y2":{"field":"e"}}},
 {"data":{"name":"B"},"transform":[{"filter":"datum.g==3"}],"mark":{"type":"tick","color":"#000","size":5,"thickness":1.5},"encoding":{"xOffset":{"field":"s","type":"nominal"},"y":{"field":"e"}}},
 {"data":{"name":"B"},"transform":[{"filter":"datum.g==3"}],"mark":{"type":"bar","stroke":"#000","strokeWidth":2},"encoding":{"xOffset":{"field":"s","type":"nominal"},"fill":{"field":"s","type":"nominal","scale":{"domain":["f/f","Δ/Δ"],"range":["#fff","#000"]},"legend":null}}},
 {"data":{"name":"Bb"},"transform":[{"filter":"datum.g==3"}],"mark":{"type":"line","color":"#333","strokeWidth":1},"encoding":{"xOffset":{"field":"s","type":"nominal"},"y":{"field":"y"},"order":{"field":"o"},"detail":{"field":"k"}}},
 {"data":{"name":"Bt"},"transform":[{"filter":"datum.g==3"}],"mark":{"type":"text","fontSize":8},"encoding":{"text":{"field":"t"},"y":{"field":"y"}}}
 ]},

{"data":{"name":"Cg"},"mark":{"type":"rule","color":"#aaa","strokeWidth":1},"encoding":{"x":{"datum":0,"scale":{"domain":[0,6],"range":[71.7,242]},"axis":null},"x2":{"datum":6},"y":{"field":"y","type":"quantitative","scale":{"domain":[0,60],"range":[345.3,232.7]},"axis":null}}},
{"encoding":{
 "x":{"field":"k","type":"nominal","scale":{"domain":["ERG","FLI1","LMO2","LYL1","GATA2","TAL1"],"range":[71,241.7],"paddingInner":0.22,"paddingOuter":0.11},"axis":{"orient":"bottom","offset":-430.7,"title":null,"labelAngle":-45,"labelAlign":"right","labelBaseline":"middle","labelFontSize":10,"labelOffset":6,"tickSize":4}},
 "y":{"field":"v","type":"quantitative","stack":null,"scale":{"domain":[0,60],"range":[345.3,232.7]},"axis":{"orient":"left","offset":-71.7,"values":[0,10,20,30,40,50,60],"title":"% Co-occupancy with RUNX1","titleFontSize":10.5,"titleX":-30,"titleY":293,"labelFontSize":10,"tickSize":4}}},
 "layer":[
 {"data":{"name":"C"},"mark":{"type":"bar","stroke":"#000","strokeWidth":1},"encoding":{"xOffset":{"field":"s","type":"nominal","scale":{"domain":["Ribi genes","all genes"],"paddingInner":0}},"fill":{"field":"s","type":"nominal","scale":{"domain":["Ribi genes","all genes"],"range":["#000","#fff"]},"legend":{"orient":"none","legendX":172,"legendY":231,"title":null,"fillColor":"#fff","padding":2,"symbolType":"square","symbolSize":50,"symbolStrokeColor":"#000","symbolStrokeWidth":1,"labelFontSize":10,"rowPadding":0,"labelOffset":2}}}},
 {"data":{"name":"Cb"},"mark":{"type":"line","color":"#000","strokeWidth":1},"encoding":{"xOffset":{"field":"s","type":"nominal"},"y":{"field":"y"},"order":{"field":"o"},"detail":{"field":"k"}}},
 {"data":{"name":"Ct"},"mark":{"type":"text","fontSize":8.5},"encoding":{"text":{"field":"t"},"y":{"field":"y"}}},
 {"data":{"values":[{"t":"C","k":"ERG","y":63.2}]},"mark":{"type":"text","fontSize":17,"fontWeight":"bold","align":"left","dx":-77,"color":"#222"},"encoding":{"text":{"field":"t"},"y":{"field":"y"}}}
 ]},

{"encoding":{
 "x":{"field":"k","type":"nominal","scale":{"domain":["45S","Rpl5","Rps7","Hprt"],"range":[311.8,422.6],"paddingInner":0.25,"paddingOuter":0.125},"axis":{"orient":"bottom","offset":-430.7,"title":null,"labelAngle":-45,"labelAlign":"right","labelBaseline":"middle","labelFontSize":10,"labelOffset":8,"tickSize":4,"tickWidth":1.5,"domainWidth":2}},
 "y":{"field":"v","type":"quantitative","stack":null,"scale":{"domain":[0,1.5],"range":[345.3,237.7]},"axis":{"orient":"left","offset":-314.3,"values":[0,0.25,0.5,0.75,1,1.25,1.5],"format":".2f","title":["Fold change relative","to cell number"],"titleFontSize":10,"titleX":-40,"titleY":284,"labelFontSize":9,"tickSize":4,"tickWidth":1.5,"domainWidth":2}}},
 "layer":[
 {"data":{"name":"E"},"mark":{"type":"rule","color":"#000","strokeWidth":1.5},"encoding":{"xOffset":{"field":"s","type":"nominal","scale":{"domain":["DMSO","4-OHT"],"paddingInner":0.02}},"y2":{"field":"e"}}},
 {"data":{"name":"E"},"mark":{"type":"tick","color":"#000","size":5,"thickness":1.5},"encoding":{"xOffset":{"field":"s","type":"nominal"},"y":{"field":"e"}}},
 {"data":{"name":"E"},"mark":{"type":"bar","stroke":"#000","strokeWidth":2},"encoding":{"xOffset":{"field":"s","type":"nominal"},"fill":{"field":"s","type":"nominal","scale":{"domain":["DMSO","4-OHT"],"range":["#fff","#000"]},"legend":{"orient":"none","legendX":451,"legendY":200,"title":null,"symbolType":"M-1,-0.55H1V0.55H-1Z","symbolSize":169,"symbolStrokeColor":"#000","symbolStrokeWidth":2,"labelFontSize":9.8,"rowPadding":2,"labelOffset":4,"labelExpr":"'f/f;Cre, '+datum.label"}}}},
 {"data":{"name":"Eb"},"mark":{"type":"line","color":"#333","strokeWidth":1},"encoding":{"xOffset":{"field":"s","type":"nominal"},"y":{"field":"y"},"order":{"field":"o"},"detail":{"field":"k"}}},
 {"data":{"name":"Et"},"mark":{"type":"text","fontSize":8.5},"encoding":{"text":{"field":"t"},"y":{"field":"y"}}},
 {"data":{"values":[{"t":"E","k":"45S","y":1.66}]},"mark":{"type":"text","fontSize":17,"fontWeight":"bold","align":"left","dx":-67.7,"color":"#222"},"encoding":{"text":{"field":"t"},"y":{"field":"y"}}}
 ]},

{"encoding":{
 "x":{"field":"k","type":"nominal","scale":{"domain":["DMSO","4-OHT"],"range":[469.3,501.3],"paddingInner":0.1,"paddingOuter":0.05},"axis":{"orient":"bottom","offset":-429.3,"title":null,"labels":false,"tickSize":4,"tickWidth":1.5,"domainWidth":2}},
 "y":{"field":"v","type":"quantitative","stack":null,"scale":{"domain":[0,1.2],"range":[346.7,238.3]},"axis":{"orient":"left","offset":-468.3,"values":[0,0.2,0.4,0.6,0.8,1,1.2],"labelExpr":"(datum.value*10)%4<0.5?format(datum.value,'.1f'):''","title":"MFI OP-Puro","titleFontSize":10.5,"titleX":-24,"titleY":286.7,"labelFontSize":9,"tickSize":3,"tickWidth":1.5,"domainWidth":2}}},
 "layer":[
 {"data":{"name":"E2"},"mark":{"type":"rule","color":"#000","strokeWidth":1.5},"encoding":{"y2":{"field":"e"}}},
 {"data":{"name":"E2"},"mark":{"type":"tick","color":"#000","size":5,"thickness":1.5},"encoding":{"y":{"field":"e"}}},
 {"data":{"name":"E2"},"mark":{"type":"bar","stroke":"#000","strokeWidth":2},"encoding":{"fill":{"field":"k","type":"nominal","scale":{"domain":["DMSO","4-OHT"],"range":["#fff","#222"]},"legend":null}}},
 {"data":{"name":"E2b"},"mark":{"type":"line","color":"#333","strokeWidth":1},"encoding":{"y":{"field":"y"},"order":{"field":"o"}}},
 {"data":{"values":[{"t":"0.0001","k":"4-OHT","y":1.15}]},"mark":{"type":"text","fontSize":8.5,"dx":-6},"encoding":{"text":{"field":"t"},"y":{"field":"y"}}}
 ]},

{"encoding":{
 "x":{"field":"k","type":"nominal","scale":{"domain":["18S rRNA","ACTB"],"range":[465.5,546.2],"paddingInner":0.3,"paddingOuter":0.15},"axis":{"orient":"bottom","offset":-192,"title":null,"ticks":false,"labelPadding":7,"labelAngle":-45,"labelAlign":"right","labelBaseline":"middle","labelFontSize":9,"labelFontStyle":"italic","labelOffset":8,"domainWidth":2}},
 "y":{"field":"v","type":"quantitative","stack":null,"scale":{"domain":[0,2],"range":[584,474]},"axis":{"orient":"left","offset":-469,"values":[0,0.5,1,1.5,2],"format":".1f","title":["Fold change relative","to cell number"],"titleFontSize":10,"titleX":-35,"titleY":525.8,"labelFontSize":8.5,"tickSize":3,"tickWidth":1.5,"domainWidth":2}}},
 "layer":[
 {"data":{"name":"F"},"mark":{"type":"rule","color":"#000","strokeWidth":1.5},"encoding":{"xOffset":{"field":"s","type":"nominal","scale":{"domain":["WT","MUT"],"paddingInner":0.05}},"y2":{"field":"e"}}},
 {"data":{"name":"F"},"mark":{"type":"tick","color":"#000","size":5,"thickness":1.5},"encoding":{"xOffset":{"field":"s","type":"nominal"},"y":{"field":"e"}}},
 {"data":{"name":"F"},"mark":{"type":"bar","stroke":"#000","strokeWidth":2},"encoding":{"xOffset":{"field":"s","type":"nominal"},"fill":{"field":"s","type":"nominal","scale":{"domain":["WT","MUT"],"range":["#fff","#000"]},"legend":{"orient":"none","legendX":465,"legendY":439,"title":null,"symbolType":"M-1,-0.55H1V0.55H-1Z","symbolSize":169,"symbolStrokeColor":"#000","symbolStrokeWidth":2,"labelFontSize":11,"rowPadding":1,"labelOffset":8,"labelExpr":"'RUNX1 '+datum.label"}}}},
 {"data":{"name":"Ft"},"mark":{"type":"rule","color":"#000","strokeWidth":1.5},"encoding":{"xOffset":{"field":"s","type":"nominal"},"y":{"field":"y"},"y2":{"field":"y2"}}},
 {"data":{"name":"Fb"},"mark":{"type":"line","color":"#333","strokeWidth":1},"encoding":{"xOffset":{"field":"s","type":"nominal"},"y":{"field":"y"},"order":{"field":"o"},"detail":{"field":"k"}}},
 {"data":{"values":[{"t":"0.0002","k":"18S rRNA","y":1.53}]},"mark":{"type":"text","fontSize":8.5,"dx":2},"encoding":{"text":{"field":"t"},"y":{"field":"y"}}},
 {"data":{"values":[{"t":"AML cells","k":"ACTB","y":2.93}]},"mark":{"type":"text","fontSize":12,"dx":-20},"encoding":{"text":{"field":"t"},"y":{"field":"y"}}},
 {"data":{"values":[{"t":"F","k":"18S rRNA","y":3.27}]},"mark":{"type":"text","fontSize":17,"fontWeight":"bold","align":"left","dx":-63.7,"color":"#222"},"encoding":{"text":{"field":"t"},"y":{"field":"y"}}}
 ]},

{"data":{"name":"grid"},"mark":{"type":"rule","color":"#ddd","strokeWidth":0.8},"encoding":{"x":{"field":"p","type":"quantitative","scale":{"domain":[-11.3,31.6],"range":[99.5,376.2]},"axis":null},"y":{"datum":0,"scale":{"domain":[0,1],"range":[677,419]},"axis":null},"y2":{"datum":1}}},
{"data":{"values":[{"p":-11.3}]},"mark":{"type":"rule","color":"#000","strokeWidth":1.2},"encoding":{"x":{"field":"p","type":"quantitative","scale":{"domain":[-11.3,31.6],"range":[99.5,376.2]},"axis":null},"y":{"datum":0,"scale":{"domain":[0,1],"range":[677,408]},"axis":null},"y2":{"datum":1}}},
{"data":{"name":"tracks"},"mark":{"type":"text","fontSize":8.6,"align":"left"},"encoding":{"text":{"field":"n"},"x":{"datum":-22.7,"scale":{"domain":[-11.3,31.6],"range":[99.5,376.2]},"axis":null},"y":{"field":"n","type":"nominal","sort":null,"scale":{"type":"point","padding":0,"range":[426.7,666.7]},"axis":null},"fill":{"field":"n","type":"nominal","scale":{"domain":["Input","ERG","ERG_peaks","LMO2","LMO2_peaks","SCL","SCL_peaks","LYL 1","LYL1_peaks","FLI1","FLI1_peaks","GATA2","GATA2_peaks","RUNX1","RUNX1_peaks"],"range":["#4a7fc1","#333","#1fa36b","#333","#d6338f","#333","#3b4a9a","#333","#e6262e","#333","#f07a28","#333","#6a3d9a","#333","#e8202f"]},"legend":null}}},
{"data":{"name":"sig"},"mark":{"type":"area","color":"#4a7fc1","stroke":"#4a7fc1","strokeWidth":0.6},"encoding":{"x":{"field":"p","type":"quantitative","scale":{"domain":[-11.3,31.6],"range":[99.5,376.2]},"axis":null},"y":{"field":"Input","type":"quantitative","scale":{"domain":[0,50],"range":[436.5,423]},"axis":{"orient":"left","offset":-99.5,"values":[0,50],"title":null,"domain":false,"tickSize":3,"labelFontSize":8.4,"labelPadding":1,"labelColor":"#4a7fc1","tickColor":"#4a7fc1"}}}},
{"data":{"name":"sig"},"mark":{"type":"area","color":"#000","stroke":"#000","strokeWidth":0.6},"encoding":{"x":{"field":"p","type":"quantitative","scale":{"domain":[-11.3,31.6],"range":[99.5,376.2]},"axis":null},"y":{"field":"ERG","type":"quantitative","scale":{"domain":[0,50],"range":[452.7,441]},"axis":{"orient":"left","offset":-99.5,"values":[0,50],"title":null,"domain":false,"tickSize":3,"labelFontSize":8.4,"labelPadding":1}}}},
{"data":{"name":"sig"},"mark":{"type":"area","color":"#000","stroke":"#000","strokeWidth":0.6},"encoding":{"x":{"field":"p","type":"quantitative","scale":{"domain":[-11.3,31.6],"range":[99.5,376.2]},"axis":null},"y":{"field":"LMO2","type":"quantitative","scale":{"domain":[0,50],"range":[487,475.5]},"axis":{"orient":"left","offset":-99.5,"values":[0,50],"title":null,"domain":false,"tickSize":3,"labelFontSize":8.4,"labelPadding":1}}}},
{"data":{"name":"sig"},"mark":{"type":"area","color":"#000","stroke":"#000","strokeWidth":0.6},"encoding":{"x":{"field":"p","type":"quantitative","scale":{"domain":[-11.3,31.6],"range":[99.5,376.2]},"axis":null},"y":{"field":"SCL","type":"quantitative","scale":{"domain":[0,50],"range":[521.7,510]},"axis":{"orient":"left","offset":-99.5,"values":[0,50],"title":null,"domain":false,"tickSize":3,"labelFontSize":8.4,"labelPadding":1}}}},
{"data":{"name":"sig"},"mark":{"type":"area","color":"#000","stroke":"#000","strokeWidth":0.6},"encoding":{"x":{"field":"p","type":"quantitative","scale":{"domain":[-11.3,31.6],"range":[99.5,376.2]},"axis":null},"y":{"field":"LYL1","type":"quantitative","scale":{"domain":[0,50],"range":[555.7,544]},"axis":{"orient":"left","offset":-99.5,"values":[0,50],"title":null,"domain":false,"tickSize":3,"labelFontSize":8.4,"labelPadding":1}}}},
{"data":{"name":"sig"},"mark":{"type":"area","color":"#000","stroke":"#000","strokeWidth":0.6},"encoding":{"x":{"field":"p","type":"quantitative","scale":{"domain":[-11.3,31.6],"range":[99.5,376.2]},"axis":null},"y":{"field":"FLI1","type":"quantitative","scale":{"domain":[0,50],"range":[590.7,579]},"axis":{"orient":"left","offset":-99.5,"values":[0,50],"title":null,"domain":false,"tickSize":3,"labelFontSize":8.4,"labelPadding":1}}}},
{"data":{"name":"sig"},"mark":{"type":"area","color":"#000","stroke":"#000","strokeWidth":0.6},"encoding":{"x":{"field":"p","type":"quantitative","scale":{"domain":[-11.3,31.6],"range":[99.5,376.2]},"axis":null},"y":{"field":"GATA2","type":"quantitative","scale":{"domain":[0,50],"range":[625,613.3]},"axis":{"orient":"left","offset":-99.5,"values":[0,50],"title":null,"domain":false,"tickSize":3,"labelFontSize":8.4,"labelPadding":1}}}},
{"data":{"name":"sig"},"mark":{"type":"area","color":"#000","stroke":"#000","strokeWidth":0.6},"encoding":{"x":{"field":"p","type":"quantitative","scale":{"domain":[-11.3,31.6],"range":[99.5,376.2]},"axis":null},"y":{"field":"RUNX1","type":"quantitative","scale":{"domain":[0,50],"range":[659,647]},"axis":{"orient":"left","offset":-99.5,"values":[0,50],"title":null,"domain":false,"tickSize":3,"labelFontSize":8.4,"labelPadding":1}}}},
{"data":{"name":"peaks"},"transform":[{"filter":"datum.t=='ERG'"}],"mark":{"type":"rect","color":"#1fa36b"},"encoding":{"x":{"field":"s","type":"quantitative","scale":{"domain":[-11.3,31.6],"range":[99.5,376.2]},"axis":null},"x2":{"field":"e"},"y":{"field":"h","type":"quantitative","scale":{"domain":[0,20],"range":[471,458.5]},"axis":{"orient":"left","offset":-99.5,"values":[0,20],"title":null,"domain":false,"tickSize":3,"labelFontSize":8.4,"labelPadding":1,"labelColor":"#1fa36b","tickColor":"#1fa36b"}},"y2":{"datum":0}}},
{"data":{"name":"peaks"},"transform":[{"filter":"datum.t=='LMO2'"}],"mark":{"type":"rect","color":"#d6338f"},"encoding":{"x":{"field":"s","type":"quantitative","scale":{"domain":[-11.3,31.6],"range":[99.5,376.2]},"axis":null},"x2":{"field":"e"},"y":{"field":"h","type":"quantitative","scale":{"domain":[0,20],"range":[505,493]},"axis":{"orient":"left","offset":-99.5,"values":[0,20],"title":null,"domain":false,"tickSize":3,"labelFontSize":8.4,"labelPadding":1,"labelColor":"#d6338f","tickColor":"#d6338f"}},"y2":{"datum":0}}},
{"data":{"name":"peaks"},"transform":[{"filter":"datum.t=='SCL'"}],"mark":{"type":"rect","color":"#3b4a9a"},"encoding":{"x":{"field":"s","type":"quantitative","scale":{"domain":[-11.3,31.6],"range":[99.5,376.2]},"axis":null},"x2":{"field":"e"},"y":{"field":"h","type":"quantitative","scale":{"domain":[0,20],"range":[539.3,527.5]},"axis":{"orient":"left","offset":-99.5,"values":[0,20],"title":null,"domain":false,"tickSize":3,"labelFontSize":8.4,"labelPadding":1,"labelColor":"#3b4a9a","tickColor":"#3b4a9a"}},"y2":{"datum":0}}},
{"data":{"name":"peaks"},"transform":[{"filter":"datum.t=='LYL1'"}],"mark":{"type":"rect","color":"#e6262e"},"encoding":{"x":{"field":"s","type":"quantitative","scale":{"domain":[-11.3,31.6],"range":[99.5,376.2]},"axis":null},"x2":{"field":"e"},"y":{"field":"h","type":"quantitative","scale":{"domain":[0,20],"range":[574,562]},"axis":{"orient":"left","offset":-99.5,"values":[0,20],"title":null,"domain":false,"tickSize":3,"labelFontSize":8.4,"labelPadding":1,"labelColor":"#e6262e","tickColor":"#e6262e"}},"y2":{"datum":0}}},
{"data":{"name":"peaks"},"transform":[{"filter":"datum.t=='FLI1'"}],"mark":{"type":"rect","color":"#f07a28"},"encoding":{"x":{"field":"s","type":"quantitative","scale":{"domain":[-11.3,31.6],"range":[99.5,376.2]},"axis":null},"x2":{"field":"e"},"y":{"field":"h","type":"quantitative","scale":{"domain":[0,20],"range":[608.3,596.5]},"axis":{"orient":"left","offset":-99.5,"values":[0,20],"title":null,"domain":false,"tickSize":3,"labelFontSize":8.4,"labelPadding":1,"labelColor":"#f07a28","tickColor":"#f07a28"}},"y2":{"datum":0}}},
{"data":{"name":"peaks"},"transform":[{"filter":"datum.t=='GATA2'"}],"mark":{"type":"rect","color":"#6a3d9a"},"encoding":{"x":{"field":"s","type":"quantitative","scale":{"domain":[-11.3,31.6],"range":[99.5,376.2]},"axis":null},"x2":{"field":"e"},"y":{"field":"h","type":"quantitative","scale":{"domain":[0,20],"range":[642.3,630.3]},"axis":{"orient":"left","offset":-99.5,"values":[0,20],"title":null,"domain":false,"tickSize":3,"labelFontSize":8.4,"labelPadding":1,"labelColor":"#6a3d9a","tickColor":"#6a3d9a"}},"y2":{"datum":0}}},
{"data":{"name":"peaks"},"transform":[{"filter":"datum.t=='RUNX1'"}],"mark":{"type":"rect","color":"#e8202f"},"encoding":{"x":{"field":"s","type":"quantitative","scale":{"domain":[-11.3,31.6],"range":[99.5,376.2]},"axis":null},"x2":{"field":"e"},"y":{"field":"h","type":"quantitative","scale":{"domain":[0,20],"range":[676.7,664.7]},"axis":{"orient":"left","offset":-99.5,"values":[0,20],"title":null,"domain":false,"tickSize":3,"labelFontSize":8.4,"labelPadding":1,"labelColor":"#e8202f","tickColor":"#e8202f"}},"y2":{"datum":0}}},

{"encoding":{"x":{"field":"p","type":"quantitative","scale":{"domain":[-11.3,31.6],"range":[99.5,376.2]},"axis":null},"y":{"field":"l","type":"quantitative","scale":{"domain":[0,20],"range":[420,400]},"axis":null}},
 "layer":[
 {"data":{"name":"toptext"},"mark":{"type":"text","fontSize":7.8,"align":"right"},"encoding":{"text":{"field":"t"}}},
 {"data":{"values":[{"t":"hg19","p":15.74,"l":15}]},"mark":{"type":"text","fontSize":7.8,"align":"left"},"encoding":{"text":{"field":"t"}}},
 {"data":{"name":"topticks"},"mark":{"type":"rule","color":"#000","strokeWidth":1.5},"encoding":{"y2":{"field":"l2"}}},
 {"data":{"values":[{"p":5.3,"e":15.2,"l":15}]},"mark":{"type":"rule","color":"#000","strokeWidth":1},"encoding":{"x2":{"field":"e"}}},
 {"data":{"values":[{"p":5.3,"l":13.5,"l2":16.5},{"p":15.2,"l":13.5,"l2":16.5}]},"mark":{"type":"rule","color":"#000","strokeWidth":1},"encoding":{"y2":{"field":"l2"}}}
 ]},

{"encoding":{"x":{"field":"p","type":"quantitative","scale":{"domain":[-11.3,31.6],"range":[99.5,376.2]},"axis":null},"y":{"field":"h","type":"quantitative","scale":{"domain":[0,10],"range":[702,682]},"axis":null}},
 "layer":[
 {"data":{"values":[{"p":-11.5,"e":31.1,"h":1.85}]},"mark":{"type":"rule","color":"#333","strokeWidth":1},"encoding":{"x2":{"field":"e"}}},
 {"data":{"name":"genebox"},"mark":{"type":"rect","fill":"#fff","stroke":"#222","strokeWidth":0.8},"encoding":{"x":{"field":"s"},"x2":{"field":"e"},"y2":{"field":"h2"}}},
 {"data":{"name":"genepro"},"mark":{"type":"rect","fill":"#888","stroke":"#222","strokeWidth":0.8},"encoding":{"x":{"field":"s"},"x2":{"field":"e"},"y2":{"field":"h2"}}},
 {"data":{"name":"genearrow"},"mark":{"type":"line","color":"#000","strokeWidth":1},"encoding":{"order":{"field":"o"},"detail":{"field":"b"}}},
 {"data":{"name":"genetip"},"mark":{"type":"point","shape":"triangle-right","filled":true,"color":"#000","size":14,"opacity":1}},
 {"data":{"name":"genedown"},"mark":{"type":"rule","color":"#000","strokeWidth":1},"encoding":{"y2":{"field":"h2"}}},
 {"data":{"name":"genedown"},"mark":{"type":"point","shape":"triangle-down","filled":true,"color":"#000","size":11,"opacity":1},"encoding":{"y":{"field":"h3"}}},
 {"data":{"name":"genetext"},"mark":{"type":"text","fontSize":8},"encoding":{"text":{"field":"t"}}},
 {"data":{"values":[{"t":"D","p":-25.5,"h":148.5}]},"mark":{"type":"text","fontSize":17,"fontWeight":"bold","align":"left","color":"#222"},"encoding":{"text":{"field":"t"}}},
 {"data":{"values":[{"p":2.4,"e":60.7,"h":-36.5}]},"mark":{"type":"rule","color":"#666","strokeWidth":1},"encoding":{"x2":{"field":"e"}}}
 ]},

{"data":{"name":"motifs"},"mark":{"type":"circle","size":24,"opacity":1},"encoding":{
 "x":{"field":"kb","type":"quantitative","scale":{"domain":[0,42.57],"range":[105,381.7]},"axis":{"orient":"bottom","offset":-21,"values":[0,5,10,15,20,25,30,35,40],"labelExpr":"datum.value==0?'0':datum.value+'k'","title":null,"tickSize":3,"labelFontSize":7.5,"labelPadding":1}},
 "y":{"field":"f","type":"nominal","scale":{"type":"point","padding":0,"domain":["RUNX1","SCL","ERG","LMO2","FLI1","GATA2"],"range":[727.7,750.3]},"axis":null},
 "fill":{"field":"f","type":"nominal","scale":{"domain":["RUNX1","ERG","FLI1","SCL","GATA2","LMO2"],"range":["#e0262e","#1a8a5a","#f08030","#3a6fb5","#3d2a86","#c8237f"]},"legend":{"orient":"none","legendX":30,"legendY":709,"title":"TF Motifs","titleFontSize":7,"titleLimit":60,"labelFontSize":7,"strokeColor":"#333","padding":3,"symbolSize":24,"rowPadding":0,"clipHeight":7.7,"labelOffset":1,"titlePadding":3,"symbolType":"circle"}}}}
]
}
